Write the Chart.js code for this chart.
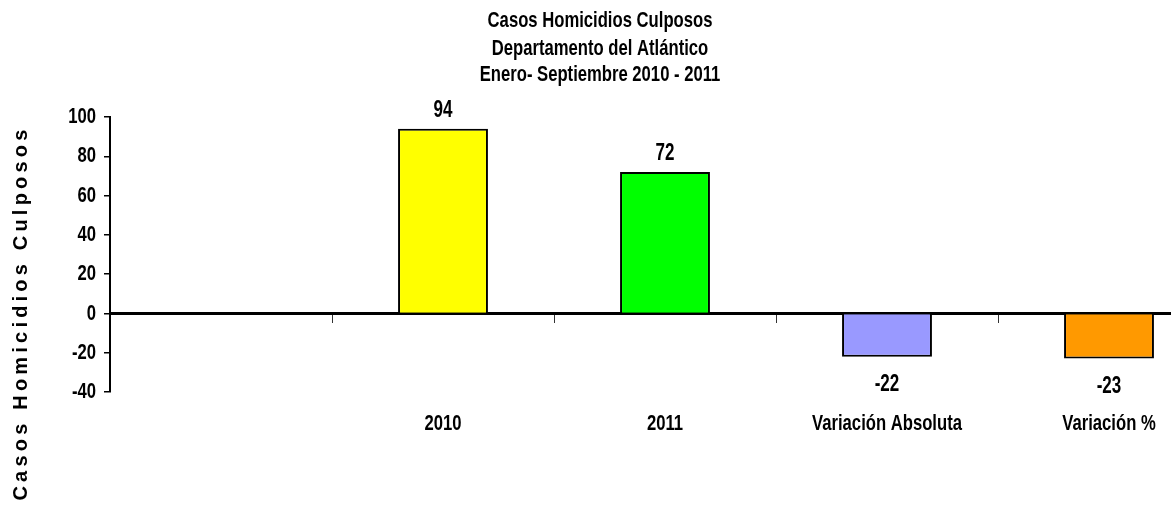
<!DOCTYPE html>
<html>
<head>
<meta charset="utf-8">
<script src="https://cdn.jsdelivr.net/npm/chart.js@4.4.1/dist/chart.umd.min.js"></script>
<style>
  html, body { margin: 0; padding: 0; background: #ffffff; overflow: hidden; width: 1171px; height: 505px; }
  canvas { display: block; }
</style>
</head>
<body>
<canvas id="c" width="1220" height="505"></canvas>
<script>
// ---- data ----
const TITLE_LINES = ['Casos Homicidios Culposos', 'Departamento del Atlántico', 'Enero- Septiembre 2010 - 2011'];
const Y_TITLE = 'Casos Homicidios Culposos';
const CATEGORIES = ['', '2010', '2011', 'Variación Absoluta', 'Variación %'];
const VALUES = [null, 94, 72, -22, -23];
const Y_MIN = -40;
const Y_MAX = 100;
const Y_STEP = 20;

// ---- styles ----
const BAR_COLORS = ['#ffffff', '#ffff00', '#00ff00', '#9999ff', '#ff9900'];
const FAMILY = "'Liberation Sans', Arial, sans-serif";
const SQUEEZE = 0.74; // horizontal compression to imitate a narrow bold face
const TXT = 22.5;

function narrowText(ctx, text, x, y, size, align) {
  ctx.save();
  ctx.translate(x, y);
  ctx.scale(SQUEEZE, 1);
  ctx.font = 'bold ' + size + 'px ' + FAMILY;
  ctx.fillStyle = '#000';
  ctx.textAlign = align || 'center';
  ctx.textBaseline = 'middle';
  ctx.fillText(text, 0, 0);
  ctx.restore();
}

const textPlugin = {
  id: 'textPlugin',
  afterDraw(chart) {
    const ctx = chart.ctx;
    // Title lines
    const ty = [21, 48.5, 75];
    TITLE_LINES.forEach((t, i) => narrowText(ctx, t, 600, ty[i], TXT, 'center'));

    // Y axis title (rotated)
    ctx.save();
    ctx.translate(27, 313);
    ctx.rotate(-Math.PI / 2);
    ctx.fillStyle = '#000';
    ctx.font = 'bold 20px ' + FAMILY;
    try { ctx.letterSpacing = '4.2px'; } catch (e) {}
    ctx.textAlign = 'center';
    ctx.textBaseline = 'alphabetic';
    ctx.fillText(Y_TITLE, 0, 0);
    ctx.restore();

    // Y tick labels
    const ys = chart.scales.y;
    ys.ticks.forEach((t) => {
      narrowText(ctx, String(t.value), ys.right - 14, ys.getPixelForValue(t.value), TXT, 'right');
    });

    // X tick labels
    const xs = chart.scales.x;
    CATEGORIES.forEach((c, i) => {
      if (c) narrowText(ctx, c, xs.getPixelForTick(i), 424, TXT, 'center');
    });

    // Value labels
    const meta = chart.getDatasetMeta(0);
    meta.data.forEach((bar, i) => {
      const v = VALUES[i];
      if (v === null || v === undefined) return;
      const y = v >= 0 ? bar.y - 18 : bar.y + 28;
      narrowText(ctx, String(v), bar.x, y, 23, 'center');
    });
  }
};

new Chart(document.getElementById('c'), {
  type: 'bar',
  data: {
    labels: CATEGORIES,
    datasets: [{
      data: VALUES,
      backgroundColor: BAR_COLORS,
      borderColor: '#000000',
      borderWidth: 2,
      barPercentage: 0.405,
      categoryPercentage: 1.0,
      xAxisID: 'x',
      yAxisID: 'y'
    }]
  },
  options: {
    responsive: false,
    animation: false,
    layout: { padding: { top: 117, left: 0, right: 0, bottom: 0 } },
    plugins: {
      legend: { display: false },
      title: { display: false },
      tooltip: { enabled: false }
    },
    scales: {
      x: {
        type: 'category',
        position: 'bottom',
        offset: true,
        grid: { display: false, drawTicks: false },
        border: { display: false },
        ticks: { display: false, autoSkip: false },
        afterFit(scale) { scale.height = 113; }
      },
      x0: {
        type: 'category',
        labels: CATEGORIES,
        position: { y: 0 },
        offset: true,
        z: 1,
        grid: {
          display: true,
          offset: true,
          drawOnChartArea: false,
          drawTicks: true,
          tickLength: 8,
          color: '#333333',
          lineWidth: 1
        },
        border: { display: true, color: '#000000', width: 3 },
        ticks: { display: false }
      },
      y: {
        min: Y_MIN,
        max: Y_MAX,
        position: 'left',
        ticks: { stepSize: Y_STEP, display: false },
        grid: {
          display: true,
          drawOnChartArea: false,
          drawTicks: true,
          tickLength: 6,
          color: '#000000',
          lineWidth: 1.5
        },
        border: { display: true, color: '#000000', width: 2 },
        afterFit(scale) { scale.width = 110; }
      }
    }
  },
  plugins: [textPlugin]
});
</script>
</body>
</html>
